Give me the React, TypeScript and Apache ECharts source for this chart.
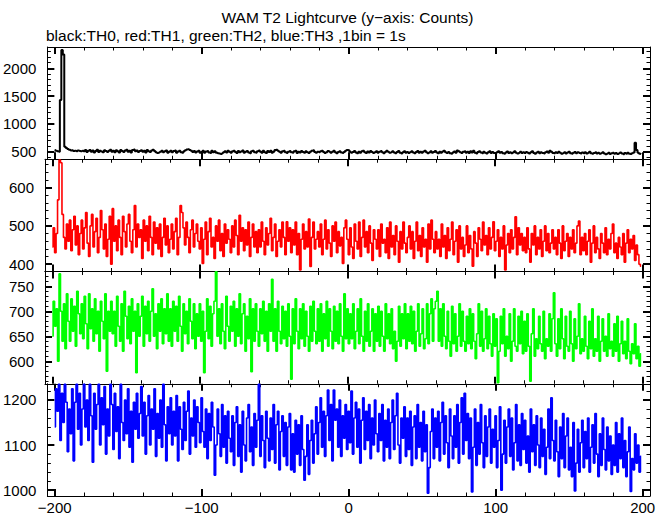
import React, { useEffect, useRef } from "react";
import * as echarts from "echarts";

const TITLE = "WAM T2 Lightcurve (y\u2212axis: Counts)";
const SUBTITLE = "black:TH0, red:TH1, green:TH2, blue:TH3 ,1bin = 1s";
const T_START = -200;
const BIN = 1;
const X_MIN = -205;
const X_MAX = 205;
const X_LABELS = [-200, -100, 0, 100, 200];
const X_MINOR_STEP = 20;

// TH0 (black), 1 s bins from -200 s
const TH0 = [
  530,515,505,500,1430,2330,2250,590,565,548,532,522,525,512,518,506,520,512,508,516,
  505,528,492,515,530,498,520,485,512,533,495,518,502,487,525,510,493,516,535,500,
  515,490,525,505,483,530,512,494,520,535,498,515,486,528,538,505,520,492,510,526,
  500,518,485,530,508,495,522,535,512,490,476,484,500,515,488,506,520,482,498,515,
  490,510,522,480,502,518,488,478,508,525,540,545,528,515,495,510,485,502,518,480,
  495,515,478,502,512,485,475,515,490,505,482,472,465,458,470,490,508,485,518,498,
  482,508,518,495,475,512,488,502,520,478,496,510,484,472,505,518,490,482,508,520,
  500,480,515,490,474,510,495,518,482,500,528,535,515,498,480,505,515,488,476,500,
  512,490,478,505,518,475,500,486,512,495,480,505,490,474,500,515,525,495,478,498,
  488,508,518,495,474,490,512,500,480,498,515,488,472,495,508,485,476,495,515,530,
  525,500,478,495,510,485,472,500,482,505,518,490,474,502,485,510,495,476,490,506,
  480,500,512,488,472,495,518,500,478,490,508,485,470,495,512,480,468,488,505,480,
  495,475,488,508,485,470,492,510,480,496,478,502,515,490,472,485,506,480,495,510,
  485,472,498,478,502,515,488,474,492,470,462,485,502,478,522,508,490,475,496,505,
  480,498,474,505,486,518,478,468,492,508,484,472,498,480,466,488,506,476,494,474,
  470,488,505,478,494,472,462,484,502,476,490,470,486,508,480,466,478,498,474,490,
  474,494,480,466,488,505,476,462,484,500,472,490,476,468,488,502,478,515,496,474,
  470,488,474,498,480,464,476,490,468,484,500,472,460,480,494,470,488,476,466,484,
  472,490,468,480,498,470,460,476,488,468,482,462,474,490,468,455,466,480,458,472,
  482,462,476,458,470,486,466,455,474,462,480,464,456,470,484,660,530,480,462,455,
];

// TH1 (red)
const TH1 = [
  445,495,430,480,568,672,665,530,470,440,505,460,515,435,490,525,450,500,425,480,
  515,440,495,535,455,420,500,530,445,485,520,430,470,540,490,440,505,420,465,525,
  400,545,460,500,435,515,470,425,525,485,445,505,530,460,430,490,553,445,505,470,
  490,415,515,460,500,435,525,470,425,510,455,495,440,505,420,470,520,450,500,430,
  465,505,440,485,520,425,470,553,535,495,450,510,470,430,490,515,445,480,505,460,
  440,495,402,465,510,425,485,520,445,470,415,500,460,515,435,480,420,505,455,490,
  465,430,500,445,515,475,425,528,460,495,435,490,450,510,420,470,505,445,485,430,
  490,445,510,460,425,495,450,480,520,435,470,505,420,460,490,445,510,470,425,511,
  460,495,430,490,450,510,425,480,385,465,505,440,485,445,518,394,470,510,440,465,
  485,445,505,425,465,515,440,490,455,420,500,460,510,430,485,448,470,402,495,515,
  465,425,495,445,415,505,460,440,510,420,470,515,445,485,430,500,455,410,490,465,
  440,490,420,505,455,465,430,495,415,510,445,475,425,500,460,405,485,440,510,455,
  430,470,500,440,485,415,460,510,435,475,420,495,445,465,405,505,440,515,465,430,
  485,440,465,420,505,445,475,415,495,435,465,510,425,460,490,405,500,440,470,420,
  450,500,430,475,440,395,485,455,420,495,465,435,510,450,475,425,495,440,470,511,
  435,460,490,420,470,440,500,385,450,480,430,490,440,470,524,425,495,450,480,435,
  470,430,495,440,405,480,450,500,425,470,440,490,420,460,500,435,480,430,455,490,
  440,470,425,490,455,415,500,435,460,480,420,470,440,490,430,455,500,513,425,470,
  435,480,425,460,490,405,455,500,430,470,440,415,480,455,430,495,425,465,440,480,
  505,430,455,415,470,445,425,480,405,455,490,430,465,440,475,410,450,425,400,395,
];

// TH2 (green)
const TH2 = [
  650,720,670,705,600,775,700,640,715,625,735,680,640,725,660,710,630,740,695,655,
  715,645,730,675,625,735,665,705,640,725,655,700,620,720,680,645,735,580,700,660,
  720,655,700,630,730,670,640,715,620,740,690,645,710,635,725,660,700,577,715,650,
  690,730,630,710,655,720,640,700,745,650,695,625,715,660,725,635,705,655,735,640,
  705,630,720,660,710,640,730,670,620,715,655,700,635,725,680,645,715,625,695,650,
  715,640,700,577,660,725,645,710,630,695,720,779,650,705,635,715,660,625,730,670,
  640,710,660,720,630,705,650,735,635,695,715,620,690,645,725,579,705,640,715,660,
  630,705,655,720,640,700,620,715,660,764,640,705,620,720,660,635,710,645,700,630,
  715,650,564,705,635,725,660,625,705,645,715,630,700,650,620,710,640,720,660,635,
  705,640,715,620,695,645,720,630,705,660,625,710,640,700,635,715,650,620,735,645,
  705,635,695,645,715,625,660,705,635,725,650,620,700,640,715,630,660,705,620,695,
  640,710,630,700,650,620,715,645,695,635,705,625,660,600,640,710,630,695,645,715,
  625,695,640,710,635,700,620,660,715,630,655,705,625,645,715,635,695,725,640,705,
  720,740,640,705,630,715,650,625,700,640,610,710,635,695,620,650,715,630,700,640,
  620,690,635,705,625,695,640,605,655,715,630,700,620,645,705,625,690,635,610,695,
  630,685,557,620,690,635,705,610,650,625,695,600,640,705,630,620,690,635,700,615,
  680,620,695,630,560,655,705,610,645,625,690,635,620,700,605,645,630,695,620,685,
  737,635,610,685,625,705,645,605,690,630,620,700,635,600,685,625,650,715,615,645,
  620,690,630,605,680,625,705,610,645,620,690,600,640,685,620,650,610,695,625,640,
  610,675,620,690,600,635,680,615,640,605,685,620,595,635,615,675,605,630,590,615,
];

// TH3 (blue)
const TH3 = [
  1140,1225,1175,1235,1110,1215,1150,1235,1195,1085,1180,1125,1225,1065,1195,1235,1135,1215,1100,1180,
  1235,1140,1200,1110,1235,1165,1062,1215,1135,1190,1235,1100,1205,1145,1230,1080,1180,1120,1235,1190,
  1090,1215,1130,1185,1070,1235,1150,1110,1200,1125,1225,1095,1175,1062,1195,1135,1215,1115,1170,1230,
  1120,1195,1080,1165,1210,1100,1180,1135,1225,1075,1170,1115,1200,1095,1235,1145,1065,1185,1125,1205,
  1100,1175,1120,1210,1065,1185,1135,1090,1195,1110,1175,1220,1080,1160,1120,1200,1095,1185,1150,1105,
  1205,1130,1095,1180,1070,1170,1110,1195,1140,1033,1100,1180,1125,1075,1190,1095,1165,1060,1175,1115,
  1085,1165,1055,1150,1185,1075,1145,1040,1175,1100,1065,1160,1190,1085,1140,1055,1170,1095,1155,1235,
  1075,1165,1110,1050,1175,1115,1065,1160,1090,1190,1060,1145,1175,1045,1130,1165,1075,1150,1055,1140,
  1170,1045,1125,1040,1155,1080,1145,1055,1165,1090,1022,1075,1145,1035,1110,1155,1060,1125,1185,1080,
  1150,1205,1095,1175,1075,1165,1222,1110,1190,1065,1222,1155,1180,1095,1200,1075,1165,1115,1190,1090,
  1175,1105,1220,1080,1160,1195,1095,1180,1060,1155,1205,1090,1175,1110,1190,1070,1160,1100,1200,1125,
  1085,1170,1110,1190,1065,1155,1095,1180,1070,1150,1200,1090,1165,1215,1100,1060,1160,1115,1185,1075,
  1160,1090,1175,1055,1140,1165,1070,1190,1095,1150,1065,1175,1085,1145,993,1050,1130,1180,1070,1160,
  1095,1175,1065,1150,1195,1080,1165,1105,1050,1180,1120,1070,1165,1095,1190,1060,1150,1205,1080,1215,
  1110,1170,1070,1160,996,1095,1180,1055,1150,1080,1190,1105,1050,1165,1075,1140,1180,1060,1135,1095,
  1165,1050,1110,1185,1000,1080,1155,1060,1140,1180,1075,1160,1045,1105,1190,1065,1145,1055,1170,1090,
  1155,1060,1120,1040,1180,1085,1145,1055,1165,1100,1050,1160,1075,1135,1035,1095,1180,1070,1205,1110,
  1065,1155,1085,1030,1140,1070,1170,1050,1120,1160,1045,1095,1030,1150,998,1060,1135,1040,1105,1155,
  1050,1130,1070,1160,1040,1095,1145,1060,1170,1080,1030,1125,1055,1160,1090,1045,1140,1065,1120,1035,
  1100,1055,1150,1040,1125,1070,1160,1050,1110,1030,1085,1140,997,1070,1045,1125,1060,1100,1040,1075,
];

const PANEL_COLORS = ["#000000", "#ff0000", "#00ff00", "#0000ff"];
const PANEL_LINE_WIDTH = [2, 1.6, 1.6, 1.6];
const PANEL_Y_MIN = [363, 381, 555, 987];
const PANEL_Y_MAX = [2383, 674, 779.6, 1236];
const PANEL_Y_LABELS = [
  [500, 1000, 1500, 2000],
  [400, 500, 600],
  [600, 650, 700, 750],
  [1000, 1100, 1200],
];
const PANEL_Y_MINOR_STEP = [100, 20, 10, 20];

const FONT = "'Liberation Sans', Arial, Helvetica, sans-serif";

function stepValues(min: number, max: number, step: number, major: number[]) {
  const out: number[] = [];
  const start = Math.ceil(min / step) * step;
  for (let v = start; v <= max + 1e-9; v += step) {
    if (!major.includes(v)) out.push(v);
  }
  return out;
}

const fmt = (v: number) => String(v).replace("-", "\u2212");

export default function App() {
  const ref = useRef<HTMLDivElement>(null);
  useEffect(() => {
    if (!ref.current) return;
    const chart = echarts.init(ref.current, undefined, { renderer: "svg" });
    const series = [TH0, TH1, TH2, TH3];
    const top0 = 47;
    const h = 112.25;
    const grids: any[] = [];
    const xAxes: any[] = [];
    const yAxes: any[] = [];
    const seriesOpts: any[] = [];
    const xMinor = stepValues(X_MIN, X_MAX, X_MINOR_STEP, X_LABELS);

    for (let i = 0; i < 4; i++) {
      grids.push({ left: 45, right: 19, top: top0 + i * h, height: h });
      const xBase = (pos: string, major: boolean, line: boolean, label: boolean) => ({
        type: "value",
        gridIndex: i,
        position: pos,
        min: X_MIN,
        max: X_MAX,
        splitLine: { show: false },
        axisLine: { show: line, onZero: false, lineStyle: { color: "#000", width: 1 } },
        axisTick: {
          show: true,
          inside: true,
          length: major ? 7 : 3.5,
          lineStyle: { color: "#000", width: major ? 2 : 1 },
          customValues: major ? X_LABELS : xMinor,
        },
        axisLabel: {
          show: label,
          customValues: X_LABELS,
          formatter: fmt,
          color: "#000",
          fontSize: 15,
          fontFamily: FONT,
          margin: 4,
        },
      });
      xAxes.push(xBase("bottom", true, true, i === 3));
      xAxes.push(xBase("bottom", false, false, false));
      xAxes.push(xBase("top", true, true, false));
      xAxes.push(xBase("top", false, false, false));

      const yMin = PANEL_Y_MIN[i];
      const yMax = PANEL_Y_MAX[i];
      const yMajor = PANEL_Y_LABELS[i];
      const yMinor = stepValues(yMin, yMax, PANEL_Y_MINOR_STEP[i], yMajor);
      const yBase = (pos: string, major: boolean, line: boolean, label: boolean) => ({
        type: "value",
        gridIndex: i,
        position: pos,
        min: yMin,
        max: yMax,
        splitLine: { show: false },
        axisLine: { show: line, onZero: false, lineStyle: { color: "#000", width: 1 } },
        axisTick: {
          show: true,
          inside: true,
          length: major ? 7 : 3.5,
          lineStyle: { color: "#000", width: major ? 2 : 1 },
          customValues: major ? yMajor : yMinor,
        },
        axisLabel: {
          show: label,
          customValues: yMajor,
          formatter: (v: number) => String(v),
          color: "#000",
          fontSize: 15,
          fontFamily: FONT,
          margin: 11,
        },
      });
      yAxes.push(yBase("left", true, true, true));
      yAxes.push(yBase("left", false, false, false));
      yAxes.push(yBase("right", true, true, false));
      yAxes.push(yBase("right", false, false, false));

      seriesOpts.push({
        type: "line",
        xAxisIndex: i * 4,
        yAxisIndex: i * 4,
        step: "middle",
        symbol: "none",
        clip: true,
        lineStyle: { color: PANEL_COLORS[i], width: PANEL_LINE_WIDTH[i] },
        data: series[i].map((v, k) => [T_START + k * BIN, v]),
        z: 1,
      });
    }

    chart.setOption({
      animation: false,
      backgroundColor: "#ffffff",
      grid: grids,
      xAxis: xAxes,
      yAxis: yAxes,
      series: seriesOpts,
      graphic: [
        {
          type: "text",
          x: 347.5,
          y: 17,
          style: {
            text: TITLE,
            fill: "#000",
            font: `15.5px ${FONT}`,
            textAlign: "center",
            textVerticalAlign: "middle",
          },
        },
        {
          type: "text",
          x: 46,
          y: 35,
          style: {
            text: SUBTITLE,
            fill: "#000",
            font: `15.5px ${FONT}`,
            textAlign: "left",
            textVerticalAlign: "middle",
          },
        },
      ],
    });
    return () => chart.dispose();
  }, []);
  return (
    <div
      ref={ref}
      style={{ position: "fixed", left: 0, top: 0, width: 669, height: 515, background: "#fff" }}
    />
  );
}
